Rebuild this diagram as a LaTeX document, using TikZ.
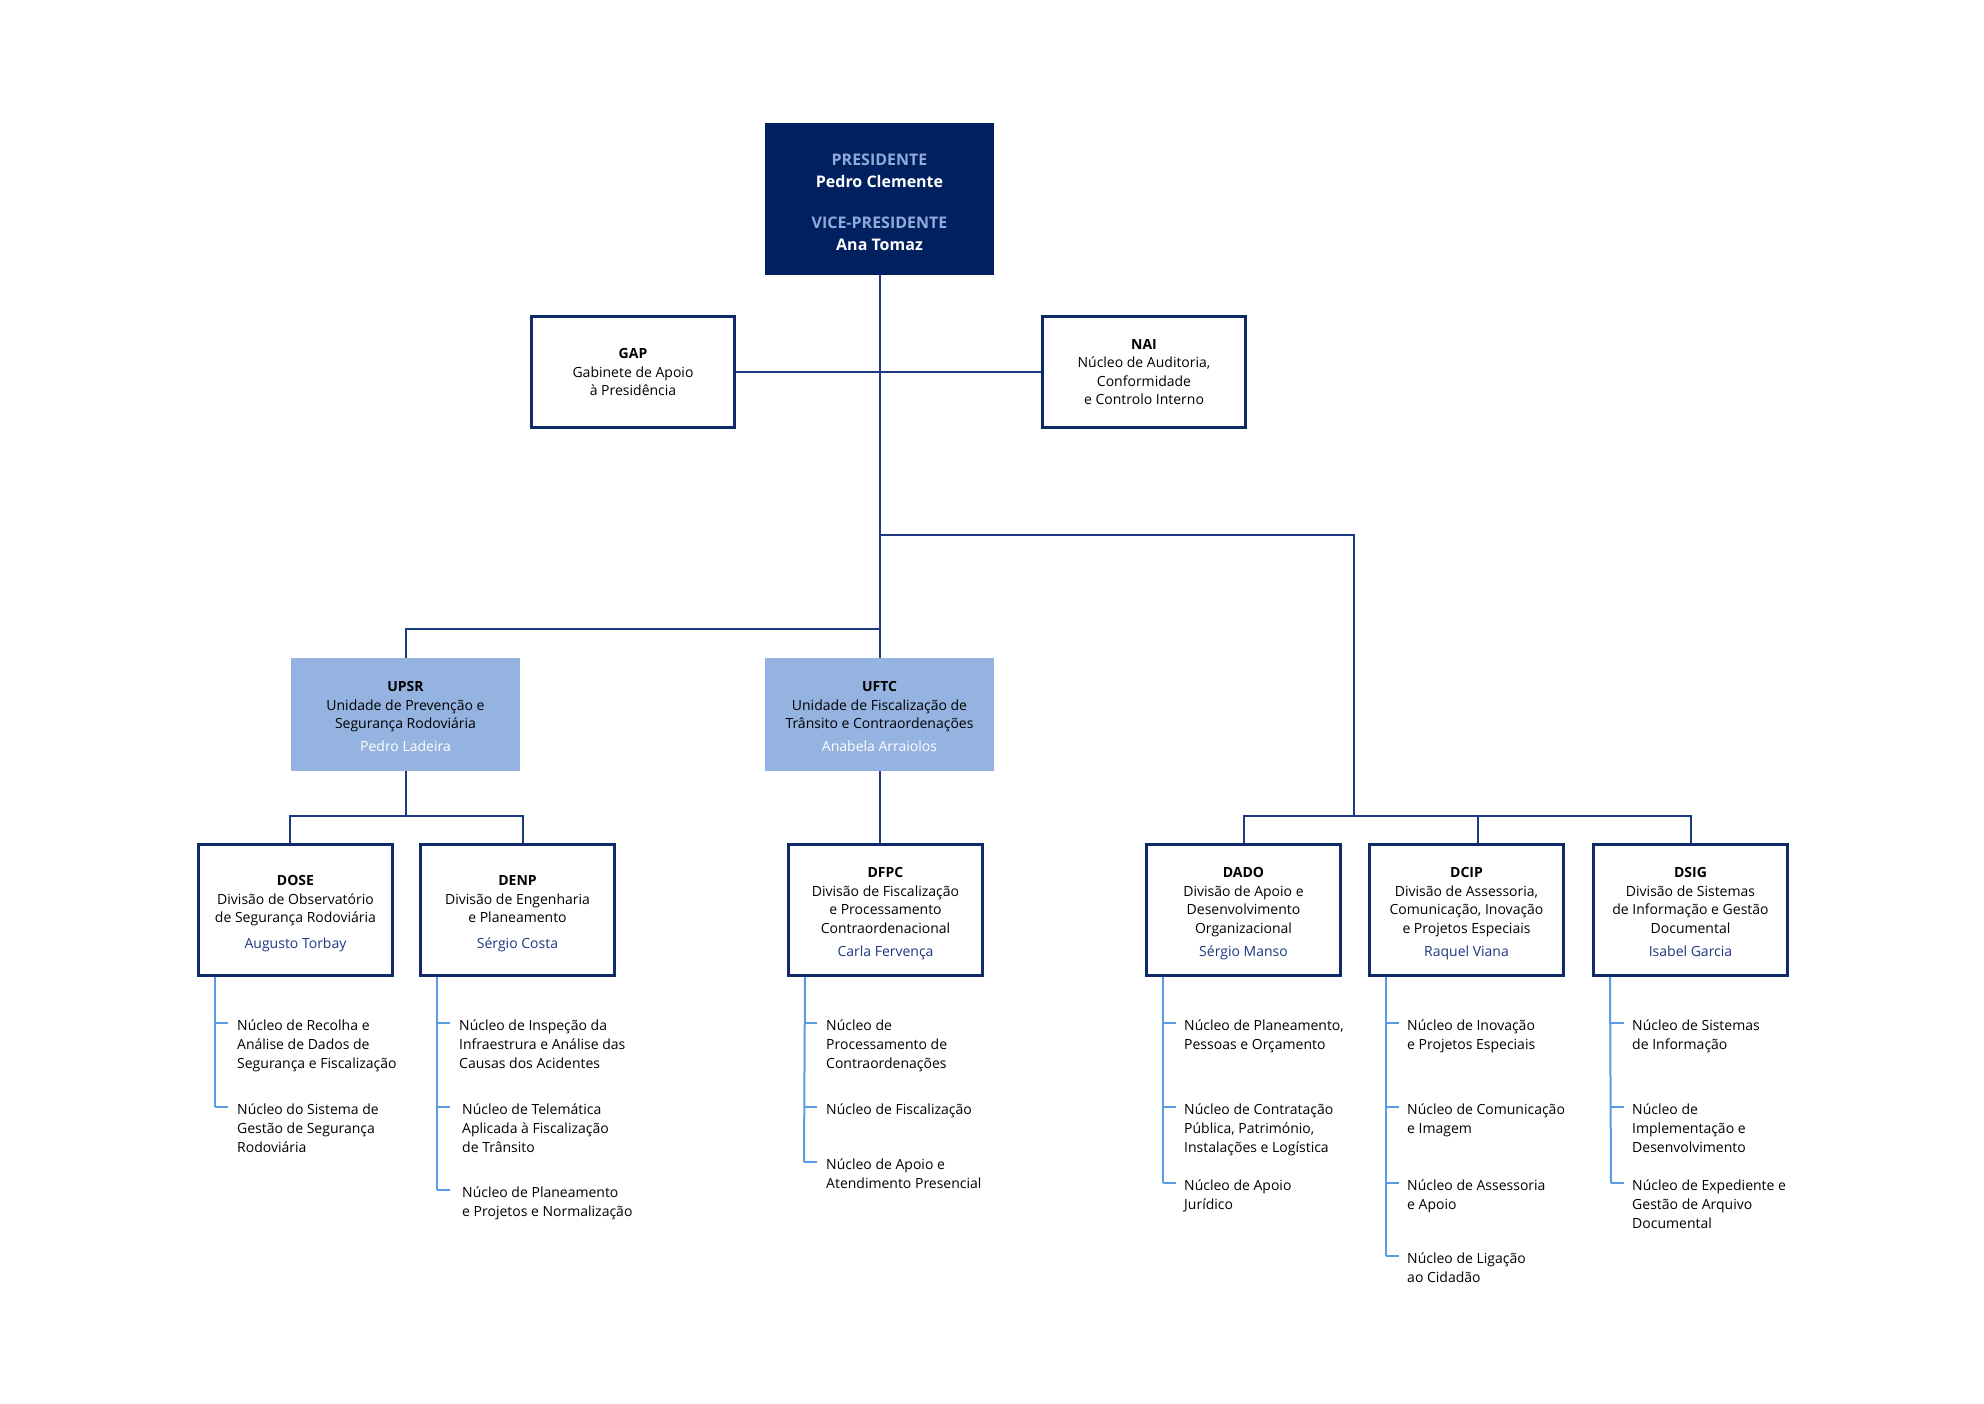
\documentclass[tikz,border=0pt]{standalone}
\usepackage{fontspec}
\setmainfont{Open Sans}
\usetikzlibrary{calc}
\definecolor{navy}{HTML}{002060}
\definecolor{titlec}{HTML}{8FAADC}
\definecolor{unitfill}{HTML}{95B3E0}
\definecolor{boxc}{HTML}{0F2A68}
\definecolor{linec}{HTML}{1B3A82}
\definecolor{subc}{HTML}{5B9BE6}
\definecolor{namec}{HTML}{1C3880}
\newcommand\istr{\rule{0pt}{14pt}}
\newcommand\fst{\rule{0pt}{19pt}}
\newcommand\lst{\rule[-5pt]{0pt}{5pt}}
\begin{document}
\begin{tikzpicture}[x=1pt,y=-1pt,
 every node/.style={inner sep=0pt},
 divbox/.style={draw=boxc, line width=3pt, fill=white, minimum width=194pt, minimum height=131pt, align=center, font=\fontsize{14}{18.5}\selectfont},
 unitbox/.style={fill=unitfill, minimum width=229pt, minimum height=113pt, align=center, font=\fontsize{14}{18.5}\selectfont},
 staffbox/.style={draw=boxc, line width=3pt, fill=white, minimum width=203pt, minimum height=111pt, align=center, font=\fontsize{14}{18.5}\selectfont},
 topbox/.style={fill=navy, minimum width=229pt, minimum height=152pt, align=center, text=white, font=\bfseries\fontsize{16}{22}\selectfont},
 conn/.style={draw=linec, line width=2pt},
 sub/.style={draw=subc, line width=2pt},
 item/.style={anchor=north west, align=left, font=\fontsize{14}{19}\selectfont}
]
\fill[white] (0,0) rectangle (1984,1403);
\useasboundingbox (0,0) rectangle (1984,1403);

% coordinates for connector joints
\coordinate (rj) at (879.5,535);
\coordinate (lj) at (879.5,629);
\coordinate (rbar) at (1354,816);
\coordinate (dcipj) at (1478,816);
\coordinate (lbar) at (405.5,816);
\coordinate (dosej) at (290,816);
\coordinate (denpj) at (523,816);

% boxes
\node[topbox] (pres) at (879.5,199) {\rule{0pt}{22pt}{\color{titlec}PRESIDENTE}\\Pedro Clemente\\[19pt]{\color{titlec}VICE-PRESIDENTE}\\Ana Tomaz\lst};
\node[staffbox] (gap) at (633,372) {\textbf{GAP}\\Gabinete de Apoio\\à Presidência};
\node[staffbox] (nai) at (1144,372) {\textbf{NAI}\\Núcleo de Auditoria,\\Conformidade\\e Controlo Interno};
\node[unitbox] (upsr) at (405.5,714.5) {\fst\textbf{UPSR}\\Unidade de Prevenção e\\Segurança Rodoviária\\[4pt]{\color{white}Pedro Ladeira}\lst};
\node[unitbox] (uftc) at (879.5,714.5) {\fst\textbf{UFTC}\\Unidade de Fiscalização de\\Trânsito e Contraordenações\\[4pt]{\color{white}Anabela Arraiolos}\lst};
\node[divbox] (dose) at (295.5,910) {\fst\textbf{DOSE}\\Divisão de Observatório\\de Segurança Rodoviária\\[7pt]{\color{namec}Augusto Torbay}\lst};
\node[divbox] (denp) at (517.5,910) {\fst\textbf{DENP}\\Divisão de Engenharia\\e Planeamento\\[7pt]{\color{namec}Sérgio Costa}\lst};
\node[divbox] (dfpc) at (885.5,910) {\fst\textbf{DFPC}\\Divisão de Fiscalização\\e Processamento\\Contraordenacional\\[5pt]{\color{namec}Carla Fervença}\lst};
\node[divbox] (dado) at (1243.5,910) {\fst\textbf{DADO}\\Divisão de Apoio e\\Desenvolvimento\\Organizacional\\[5pt]{\color{namec}Sérgio Manso}\lst};
\node[divbox] (dcip) at (1466.5,910) {\fst\textbf{DCIP}\\Divisão de Assessoria,\\Comunicação, Inovação\\e Projetos Especiais\\[5pt]{\color{namec}Raquel Viana}\lst};
\node[divbox] (dsig) at (1690.5,910) {\fst\textbf{DSIG}\\Divisão de Sistemas\\de Informação e Gestão\\Documental\\[5pt]{\color{namec}Isabel Garcia}\lst};

% connectors
\draw[conn] (pres.south) -- (uftc.north);
\draw[conn] (gap.east) -- (nai.west);
\draw[conn] (lj) -| (upsr.north);
\draw[conn] (rj) -| (rbar);
\draw[conn] (dado.north) |- (rbar) -| (dsig.north);
\draw[conn] (dcipj) -- (dcipj |- dcip.north);
\draw[conn] (upsr.south) -- (lbar);
\draw[conn] (dosej |- dose.north) -- (dosej) -- (denpj) -- (denpj |- denp.north);
\draw[conn] (uftc.south) -- (uftc.south |- dfpc.north);

% DOSE items
\draw[sub] ($(dose.south west)+(18,0)$) -- (215,1107);
\draw[sub] (215,1023) -- ++(13,0);
\draw[sub] (215,1107) -- ++(13,0);
\node[item] (dose1) at (237,1016.5) {\istr Núcleo de Recolha e\\Análise de Dados de\\Segurança e Fiscalização};
\node[item] (dose2) at (237,1100.5) {\istr Núcleo do Sistema de\\Gestão de Segurança\\Rodoviária};

% DENP items
\draw[sub] ($(denp.south west)+(18,0)$) -- (437,1190);
\draw[sub] (437,1023) -- ++(13,0);
\draw[sub] (437,1107) -- ++(13,0);
\draw[sub] (437,1190) -- ++(13,0);
\node[item] (denp1) at (459,1016.5) {\istr Núcleo de Inspeção da\\Infraestrura e Análise das\\Causas dos Acidentes};
\node[item] (denp2) at (462,1100.5) {\istr Núcleo de Telemática\\Aplicada à Fiscalização\\de Trânsito};
\node[item] (denp3) at (462,1183.5) {\istr Núcleo de Planeamento\\e Projetos e Normalização};

% DFPC items
\draw[sub] ($(dfpc.south west)+(18,0)$) -- (804,1162);
\draw[sub] (804,1023) -- ++(13,0);
\draw[sub] (804,1107) -- ++(13,0);
\draw[sub] (804,1162) -- ++(13,0);
\node[item] (dfpc1) at (826,1016.5) {\istr Núcleo de\\Processamento de\\Contraordenações};
\node[item] (dfpc2) at (826,1100.5) {\istr Núcleo de Fiscalização};
\node[item] (dfpc3) at (826,1155.5) {\istr Núcleo de Apoio e\\Atendimento Presencial};

% DADO items
\draw[sub] ($(dado.south west)+(18,0)$) -- (1163,1183);
\draw[sub] (1163,1023) -- ++(13,0);
\draw[sub] (1163,1107) -- ++(13,0);
\draw[sub] (1163,1183) -- ++(13,0);
\node[item] (dado1) at (1184,1016.5) {\istr Núcleo de Planeamento,\\Pessoas e Orçamento};
\node[item] (dado2) at (1184,1100.5) {\istr Núcleo de Contratação\\Pública, Património,\\Instalações e Logística};
\node[item] (dado3) at (1184,1176.5) {\istr Núcleo de Apoio\\Jurídico};

% DCIP items
\draw[sub] ($(dcip.south west)+(18,0)$) -- (1386,1256);
\draw[sub] (1386,1023) -- ++(13,0);
\draw[sub] (1386,1107) -- ++(13,0);
\draw[sub] (1386,1183) -- ++(13,0);
\draw[sub] (1386,1256) -- ++(13,0);
\node[item] (dcip1) at (1407,1016.5) {\istr Núcleo de Inovação\\e Projetos Especiais};
\node[item] (dcip2) at (1407,1100.5) {\istr Núcleo de Comunicação\\e Imagem};
\node[item] (dcip3) at (1407,1176.5) {\istr Núcleo de Assessoria\\e Apoio};
\node[item] (dcip4) at (1407,1249.5) {\istr Núcleo de Ligação\\ao Cidadão};

% DSIG items
\draw[sub] ($(dsig.south west)+(18,0)$) -- (1611,1183);
\draw[sub] (1611,1023) -- ++(13,0);
\draw[sub] (1611,1107) -- ++(13,0);
\draw[sub] (1611,1183) -- ++(13,0);
\node[item] (dsig1) at (1632,1016.5) {\istr Núcleo de Sistemas\\de Informação};
\node[item] (dsig2) at (1632,1100.5) {\istr Núcleo de\\Implementação e\\Desenvolvimento};
\node[item] (dsig3) at (1632,1176.5) {\istr Núcleo de Expediente e\\Gestão de Arquivo\\Documental};
\end{tikzpicture}
\end{document}
